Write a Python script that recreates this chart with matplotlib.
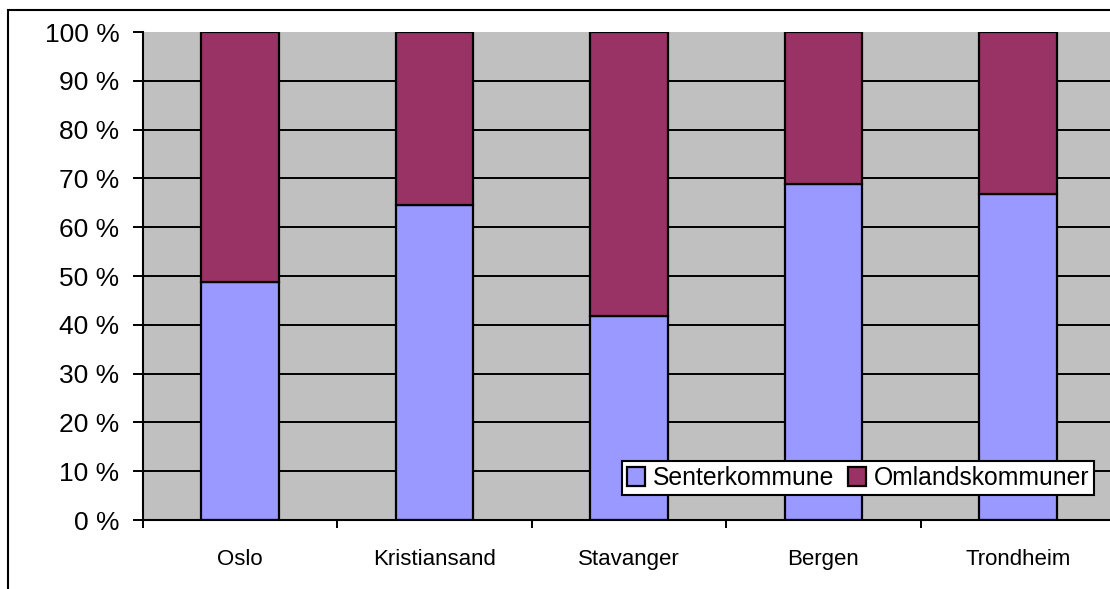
import matplotlib.pyplot as plt
from matplotlib.patches import Rectangle
import numpy as np

plt.rcParams['font.family'] = ['Liberation Sans', 'DejaVu Sans']

cities = ["Oslo", "Kristiansand", "Stavanger", "Bergen", "Trondheim"]
senter = [48.8, 64.5, 41.8, 68.9, 66.8]
omland = [100 - v for v in senter]
y_ticks = list(range(0, 101, 10))

fig = plt.figure(figsize=(11.10, 5.89), dpi=100)
fig.patches.append(Rectangle((8 / 1110, -0.1), 1.2, 1 - 10 / 589 + 0.1,
                             transform=fig.transFigure, fill=False,
                             edgecolor="black", linewidth=1.5))

ax = fig.add_axes([143 / 1110, 69 / 589, 972 / 1110, 488 / 589])
ax.set_facecolor("#C0C0C0")

x = np.arange(len(cities))
ax.hlines(y_ticks[1:-1], -0.5, len(cities) - 0.5, colors="black",
          linewidth=1.4, zorder=1)
ax.bar(x, senter, width=0.4, color="#9999FF", edgecolor="black",
       linewidth=1.6, label="Senterkommune", zorder=2)
ax.bar(x, omland, width=0.4, bottom=senter, color="#993366",
       edgecolor="black", linewidth=1.6, label="Omlandskommuner", zorder=2)

ax.set_xlim(-0.5, len(cities) - 0.5)
ax.set_ylim(0, 100)
ax.set_yticks(y_ticks)
ax.set_yticklabels([f"{t} %" for t in y_ticks], fontsize=19)
ax.set_xticks(x)
ax.set_xticklabels(cities, fontsize=16)
ax.set_xticks(np.arange(len(cities) + 1) - 0.5, minor=True)
ax.tick_params(axis="x", which="major", length=0, pad=21)
ax.tick_params(axis="x", which="minor", length=6, width=1.4, direction="out")
ax.tick_params(axis="y", length=7, width=1.4, pad=10)

for side in ["top", "right"]:
    ax.spines[side].set_visible(False)
for side in ["left", "bottom"]:
    ax.spines[side].set_linewidth(1.5)

leg = ax.legend(loc="lower left", bbox_to_anchor=(0.4928, 0.0512), ncol=2,
                fontsize=17.8, frameon=True, fancybox=False, framealpha=1,
                edgecolor="black", borderaxespad=0, handlelength=0.75,
                handleheight=0.75, handletextpad=0.3, columnspacing=0.55,
                borderpad=0.2)
leg.get_frame().set_linewidth(1.5)
leg.set_zorder(5)

fig.savefig("out.png", dpi=100)
